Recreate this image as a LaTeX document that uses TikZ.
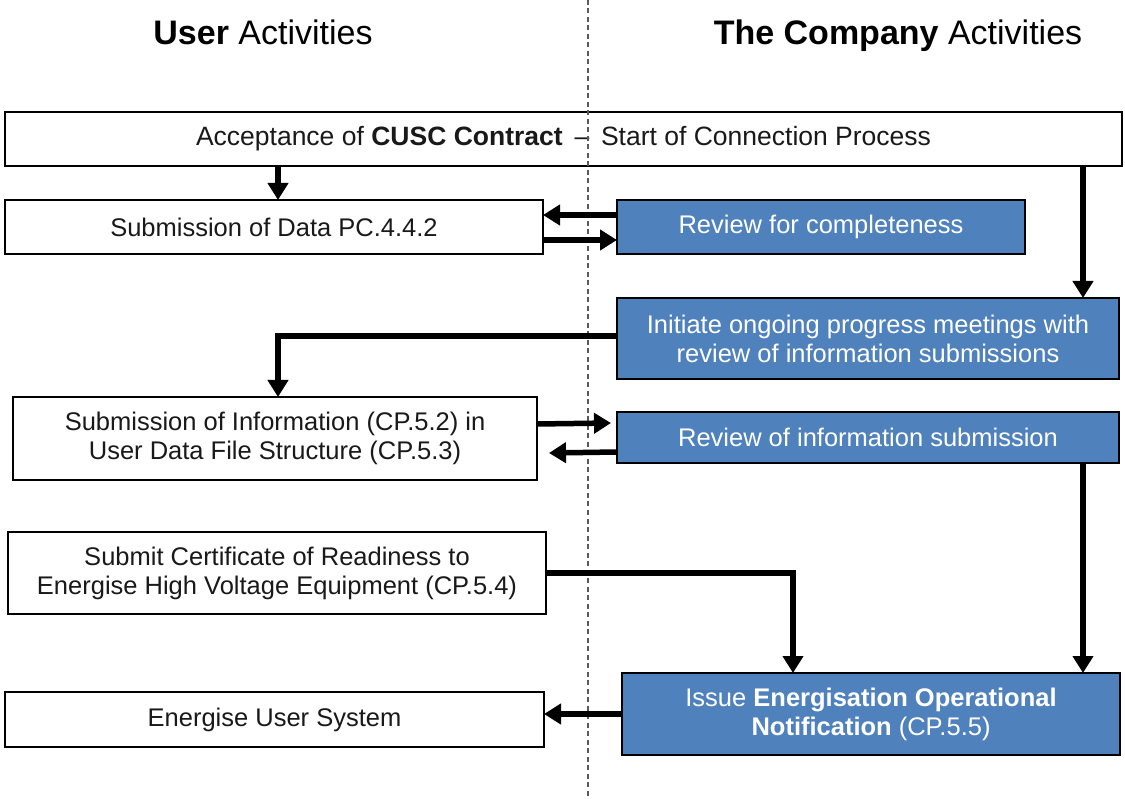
\documentclass[tikz,border=0pt]{standalone}
\usepackage{fontspec}
\setmainfont{Liberation Sans}
\usetikzlibrary{arrows.meta,calc}
\definecolor{boxblue}{RGB}{79,129,189}
\definecolor{dashgray}{RGB}{90,90,90}
\begin{document}
\begin{tikzpicture}[x=1pt,y=-1pt,
  every node/.style={inner sep=0pt,outer sep=0pt},
  userbox/.style={draw=black,line width=2.5pt,fill=white,align=center,
    font=\fontsize{25.5}{29}\selectfont,text=black!90},
  cobox/.style={draw=black,line width=2.5pt,fill=boxblue,align=center,
    font=\fontsize{25.5}{29}\selectfont,text=white},
  header/.style={font=\fontsize{34}{40}\selectfont,text=black,anchor=base},
  flow/.style={line width=5.5pt,-{Triangle[width=20pt,length=17pt]}},
  divider/.style={draw=dashgray,line width=1.5pt,dash pattern=on 5pt off 3.5pt}]
\useasboundingbox (0,0) rectangle (1125,799);

% headers
\node[header] (hu) at (263,45) {\textbf{User} Activities};
\node[header] (hc) at (898,45) {\textbf{The Company} Activities};

% boxes
\node[userbox,minimum width=1117pt,minimum height=54pt,
  font=\fontsize{26.5}{30}\selectfont] (top) at (563.5,139)
  {Acceptance of \textbf{CUSC Contract} \,–\, Start of Connection Process};
\node[userbox,minimum width=538pt,minimum height=54pt] (subdata) at (274,227)
  {Submission of Data PC.4.4.2};
\node[cobox,minimum width=408pt,minimum height=54pt] (revcomp) at (821,227)
  {Review for completeness};
\node[cobox,minimum width=502pt,minimum height=81pt] (initiate) at (868,338.5)
  {Initiate ongoing progress meetings with\\review of information submissions};
\node[userbox,minimum width=524pt,minimum height=83pt] (subinfo) at (275,438.5)
  {Submission of Information (CP.5.2) in\\User Data File Structure (CP.5.3)};
\node[cobox,minimum width=502pt,minimum height=51pt] (revinfo) at (868,437.5)
  {Review of information submission};
\node[userbox,minimum width=538pt,minimum height=82pt] (cert) at (277,573)
  {Submit Certificate of Readiness to\\Energise High Voltage Equipment (CP.5.4)};
\node[userbox,minimum width=539pt,minimum height=55pt] (energise) at (274.5,719.5)
  {Energise User System};
\node[cobox,minimum width=498pt,minimum height=82pt] (issue) at (871,714)
  {Issue \textbf{Energisation Operational}\\\textbf{Notification} (CP.5.5)};

% divider
\coordinate (dtop) at (588,0);
\coordinate (dbot) at (588,799);
\draw[divider] (dtop) -- (dbot);

% helper columns
\coordinate (xl) at (278,0);
\coordinate (xr) at (1083,0);
\coordinate (xm) at (793,0);

% connectors
\draw[flow] (top.south -| xl) -- (subdata.north -| xl);
\draw[flow] ([yshift=12pt]revcomp.west) -- ([yshift=12pt]subdata.east);
\draw[flow] ([yshift=-13pt]subdata.east) -- ([yshift=-13pt]revcomp.west);
\draw[flow] (top.south -| xr) -- (initiate.north -| xr);
\draw[flow] ([yshift=2.5pt]initiate.west) -| (subinfo.north -| xl);
\draw[flow] ([yshift=14.5pt]subinfo.east) -- ([yshift=14.5pt,xshift=-6pt]revinfo.west);
\draw[flow] ([yshift=-14.5pt]revinfo.west) -- ([yshift=-14.5pt,xshift=12pt]subinfo.east);
\draw[flow] (revinfo.south -| xr) -- (issue.north -| xr);
\draw[flow] (cert.east) -| (issue.north -| xm);
\draw[flow] (issue.west) -- (issue.west -| energise.east);
\end{tikzpicture}
\end{document}
